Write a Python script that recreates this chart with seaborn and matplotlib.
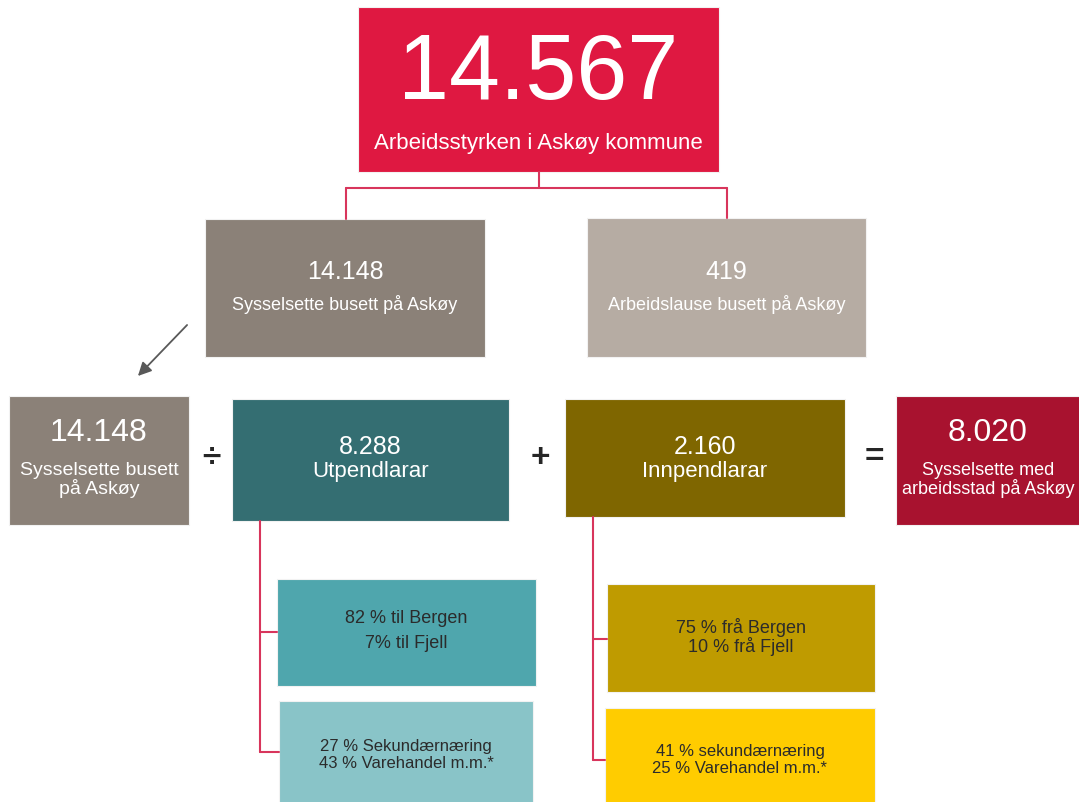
import matplotlib
matplotlib.use('Agg')
import matplotlib.pyplot as plt
from matplotlib.patches import Rectangle
import seaborn as sns

# tal og tekstar
top_value = '14.567'
top_label = 'Arbeidsstyrken i Askøy kommune'

mid_values = ['14.148', '419']
mid_labels = ['Sysselsette busett på Askøy', 'Arbeidslause busett på Askøy']

row_values = ['14.148', '8.288', '2.160', '8.020']
row_labels = ['Sysselsette busett\npå Askøy', 'Utpendlarar', 'Innpendlarar',
              'Sysselsette med\narbeidsstad på Askøy']
operators = ['÷', '+', '=']

ut_texts = ['82 % til Bergen\n7% til Fjell',
            '27 % Sekundærnæring\n43 % Varehandel m.m.*']
inn_texts = ['75 % frå Bergen\n10 % frå Fjell',
             '41 % sekundærnæring\n25 % Varehandel m.m.*']

# farger
c_top = '#DF1841'
c_mid = ['#8B8178', '#B6ACA3']
c_row = ['#8B8178', '#346E72', '#7F6600', '#A8122F']
c_ut = ['#4FA6AD', '#89C4C8']
c_inn = ['#BF9B00', '#FFCC00']
c_line = '#D8355C'

sns.set_theme(style='white')
plt.rcParams['font.family'] = ['Liberation Sans', 'DejaVu Sans']

fig = plt.figure(figsize=(10.79, 8.02), dpi=100)
ax = fig.add_axes([0, 0, 1, 1])
ax.set_xlim(0, 1079)
ax.set_ylim(802, 0)
ax.axis('off')


def box(x0, y0, x1, y1, color):
    ax.add_patch(Rectangle((x0, y0), x1 - x0, y1 - y0, facecolor=color,
                           edgecolor='#F2F2F2', linewidth=0.8))


# topp
box(358, 7, 719, 172, c_top)
ax.text(538, 75, top_value, ha='center', va='center', color='white', fontsize=66)
ax.text(538, 143, top_label, ha='center', va='center', color='white', fontsize=16)

# linjer fra topp
ax.plot([539, 539], [172, 188], color=c_line, lw=1.5)
ax.plot([346, 727], [188, 188], color=c_line, lw=1.5)
ax.plot([346, 346], [188, 219], color=c_line, lw=1.5)
ax.plot([727, 727], [188, 218], color=c_line, lw=1.5)

# midtrad
mid_pos = [(205, 219, 485, 357), (587, 218, 866, 357)]
for (x0, y0, x1, y1), v, l, c in zip(mid_pos, mid_values, mid_labels, c_mid):
    box(x0, y0, x1, y1, c)
    cx = (x0 + x1) / 2
    ax.text(cx, 272, v, ha='center', va='center', color='white', fontsize=18)
    ax.text(cx, 304, l, ha='center', va='center', color='white', fontsize=13)

# pil
ax.annotate('', xy=(136, 378), xytext=(189, 323),
            arrowprops=dict(arrowstyle='-|>', color='#595959', lw=1.3,
                            mutation_scale=20))

# rad med likning
row_pos = [(9, 396, 189, 525), (232, 399, 509, 521),
           (565, 399, 845, 517), (896, 396, 1085, 525)]
big = [True, False, False, True]
label_size = [14, 16, 16, 13]
for (x0, y0, x1, y1), v, l, c, b, fs in zip(row_pos, row_values, row_labels,
                                            c_row, big, label_size):
    box(x0, y0, x1, y1, c)
    cx = (x0 + x1) / 2 if x1 < 1079 else 988
    if b:
        ax.text(cx, 433, v, ha='center', va='center', color='white', fontsize=23)
        ax.text(cx, 480, l, ha='center', va='center', color='white',
                fontsize=fs, linespacing=0.95)
    else:
        ax.text(cx, 447, v, ha='center', va='center', color='white', fontsize=18)
        ax.text(cx, 471, l, ha='center', va='center', color='white', fontsize=fs)

for xo, op in zip([211, 540, 874], operators):
    ax.text(xo, 458, op, ha='center', va='center', color='#262626',
            fontsize=24, fontweight='bold')

# utpendlarar
ax.plot([260, 260], [521, 752], color=c_line, lw=1.5)
ax.plot([260, 277], [632, 632], color=c_line, lw=1.5)
ax.plot([260, 279], [752, 752], color=c_line, lw=1.5)
ut_pos = [(277, 579, 536, 686), (279, 701, 533, 810)]
ut_ty = [631, 755]
ut_fs = [13, 12]
ut_ls = [1.6, 1.2]
for (x0, y0, x1, y1), t, c, ty, fs, ls in zip(ut_pos, ut_texts, c_ut, ut_ty, ut_fs, ut_ls):
    box(x0, y0, x1, y1, c)
    ax.text((x0 + x1) / 2, ty, t, ha='center', va='center', color='#2B2B2B',
            fontsize=fs, linespacing=ls)

# innpendlarar
ax.plot([593, 593], [517, 760], color=c_line, lw=1.5)
ax.plot([593, 607], [639, 639], color=c_line, lw=1.5)
ax.plot([593, 605], [760, 760], color=c_line, lw=1.5)
inn_pos = [(607, 584, 875, 692), (605, 708, 875, 810)]
inn_ty = [637, 760]
inn_fs = [13, 12]
inn_ls = [1.0, 1.15]
for (x0, y0, x1, y1), t, c, ty, fs, ls in zip(inn_pos, inn_texts, c_inn, inn_ty, inn_fs, inn_ls):
    box(x0, y0, x1, y1, c)
    ax.text((x0 + x1) / 2, ty, t, ha='center', va='center', color='#2B2B2B',
            fontsize=fs, linespacing=ls)

plt.savefig('out.png', dpi=100)
